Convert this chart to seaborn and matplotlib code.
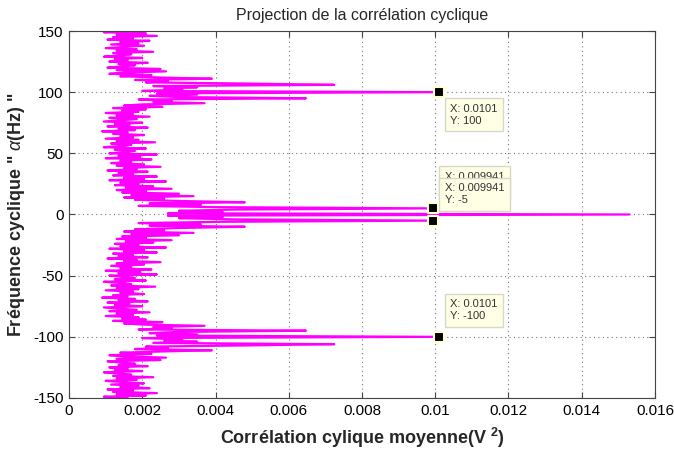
import matplotlib
matplotlib.use("Agg")
import matplotlib.pyplot as plt
import seaborn as sns
import numpy as np
import pandas as pd

# Cyclic frequency axis (Hz), from top to bottom
freq = list(range(150, -151, -1))

# Mean cyclic correlation, in units of 1e-5 V^2
corr_pos = [160, 95, 210, 130, 240, 120, 175, 105, 220, 140,      # 150..141
            190, 115, 205, 150, 100, 185, 130, 230, 120, 170,     # 140..131
            140, 95, 200, 125, 160, 110, 215, 135, 180, 145,      # 130..121
            105, 250, 130, 265, 150, 110, 225, 140, 250, 390,     # 120..111
            180, 270, 210, 496, 724, 230, 350, 260, 310, 200,     # 110..101
            1010, 240, 350, 220, 300, 647, 190, 280, 230, 370,    # 100..91
            200, 150, 255, 120, 210, 145, 190, 100, 175, 130,     # 90..81
            220, 110, 185, 140, 95, 200, 125, 165, 105, 215,      # 80..71
            135, 180, 90, 160, 120, 205, 140, 175, 100, 190,      # 70..61
            130, 235, 115, 170, 145, 95, 210, 125, 180, 150,      # 60..51
            110, 240, 135, 195, 100, 225, 140, 170, 115, 205,     # 50..41
            130, 250, 150, 185, 105, 215, 135, 175, 120, 240,     # 40..31
            150, 205, 110, 265, 140, 190, 125, 230, 155, 280,     # 30..21
            130, 210, 145, 300, 170, 340, 150, 260, 180, 310,     # 20..11
            480, 220, 360, 190, 410, 994, 450, 300, 420, 270]     # 10..1
corr_zero = [1530]
corr_neg = [270, 420, 300, 450, 994, 410, 190, 360, 220, 480,     # -1..-10
            310, 180, 260, 150, 340, 170, 300, 145, 210, 130,     # -11..-20
            280, 155, 230, 125, 190, 140, 265, 110, 205, 150,     # -21..-30
            240, 120, 175, 135, 215, 105, 185, 150, 250, 130,     # -31..-40
            205, 115, 170, 140, 225, 100, 195, 135, 240, 110,     # -41..-50
            150, 180, 125, 210, 95, 145, 170, 115, 235, 130,      # -51..-60
            190, 100, 175, 140, 205, 120, 160, 90, 180, 135,      # -61..-70
            215, 105, 165, 125, 200, 95, 140, 185, 110, 220,      # -71..-80
            130, 175, 100, 190, 145, 210, 120, 255, 150, 200,     # -81..-90
            370, 230, 280, 190, 647, 300, 220, 350, 240, 1010,    # -91..-100
            200, 310, 260, 350, 230, 724, 496, 210, 270, 180,     # -101..-110
            390, 250, 140, 225, 110, 150, 265, 130, 250, 105,     # -111..-120
            145, 180, 135, 215, 110, 160, 125, 200, 95, 140,      # -121..-130
            170, 120, 230, 130, 185, 100, 150, 205, 115, 190,     # -131..-140
            140, 220, 105, 175, 120, 240, 130, 210, 95, 160]      # -141..-150

# Data tips
tip_x = [0.0101, 0.009941, 0.009941, 0.0101]
tip_y = [100, 5, -5, -100]
tip_text = ["X: 0.0101\nY: 100", "X: 0.009941\nY: 5",
            "X: 0.009941\nY: -5", "X: 0.0101\nY: -100"]

df = pd.DataFrame({"freq": freq,
                   "corr": np.array(corr_pos + corr_zero + corr_neg) * 1e-5})

sns.set_style("ticks")
plt.rcParams["font.family"] = ["Liberation Sans", "DejaVu Sans"]
plt.rcParams["axes.unicode_minus"] = False
plt.rcParams["mathtext.fontset"] = "custom"
plt.rcParams["mathtext.rm"] = "Liberation Sans"
plt.rcParams["mathtext.it"] = "Liberation Sans:italic"
plt.rcParams["mathtext.bf"] = "Liberation Sans:bold"

fig = plt.figure(figsize=(6.74, 4.5), dpi=100)
ax = fig.add_axes([0.1024, 0.1156, 0.8694, 0.8155])

sns.lineplot(data=df, x="corr", y="freq", orient="y", sort=False, estimator=None,
             color="#FF00FF", linewidth=1.6, ax=ax)

ax.set_xlim(0, 0.016)
ax.set_ylim(-150, 150)
ax.set_xticks(np.arange(0, 0.0161, 0.002))
ax.set_xticklabels(["%g" % round(t, 3) for t in np.arange(0, 0.0161, 0.002)])
ax.set_yticks(range(-150, 151, 50))
ax.tick_params(direction="in", top=True, right=True, length=4, width=0.8,
               color="#444444", labelsize=11, labelcolor="black", pad=4)
for s in ax.spines.values():
    s.set_color("#444444")
    s.set_linewidth(0.8)
ax.grid(True, linestyle=(0, (1, 3)), color="#777777", linewidth=0.8)

ax.set_title("Projection de la corrélation cyclique", fontsize=11.5, pad=8)
ax.set_xlabel("Corrélation cylique moyenne(V $^{\\mathbf{2}}$)", fontsize=13,
              fontweight="bold", labelpad=6)
ax.set_ylabel('Fréquence cyclique " $\\alpha$(Hz) "', fontsize=13,
              fontweight="bold", labelpad=4)

# markers
sns.scatterplot(x=tip_x, y=tip_y, marker="s", s=60, color="black",
                edgecolor="#FFFFD0", linewidth=1.5, zorder=5, ax=ax)

# data tip boxes (offsets in points)
offsets = [(8.3, -8.3), (8.3, 26.3), (8.3, 27.0), (8.3, 27.0)]
for x, y, t, off in zip(tip_x, tip_y, tip_text, offsets):
    ax.annotate(t, xy=(x, y), xytext=off, textcoords="offset points",
                ha="left", va="top", fontsize=8, color="#333333",
                family=["Liberation Sans", "DejaVu Sans"], linespacing=1.25,
                bbox=dict(boxstyle="square,pad=0.5", fc="#FFFFE5",
                          ec="#D8D8C8", lw=1), zorder=6)

fig.savefig("out.png", dpi=100)
